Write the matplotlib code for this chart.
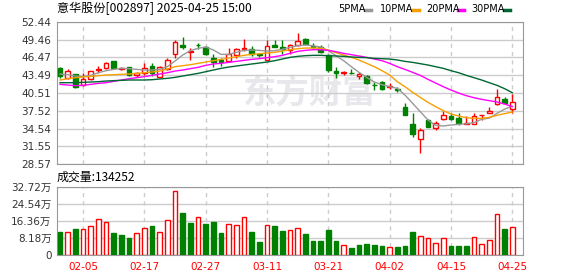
import matplotlib.pyplot as plt
from matplotlib.lines import Line2D
import numpy as np

plt.rcParams['font.family'] = ['DejaVu Sans', 'Noto Sans CJK SC']

# 日K数据 (2025-01-23 ~ 2025-04-25)
dates = ['01-23', '01-24', '01-27', '02-05', '02-06', '02-07', '02-10', '02-11', '02-12', '02-13',
         '02-14', '02-17', '02-18', '02-19', '02-20', '02-21', '02-24', '02-25', '02-26', '02-27',
         '02-28', '03-03', '03-04', '03-05', '03-06', '03-07', '03-10', '03-11', '03-12', '03-13',
         '03-14', '03-17', '03-18', '03-19', '03-20', '03-21', '03-24', '03-25', '03-26', '03-27',
         '03-28', '03-31', '04-01', '04-02', '04-03', '04-07', '04-08', '04-09', '04-10', '04-11',
         '04-14', '04-15', '04-16', '04-17', '04-18', '04-21', '04-22', '04-23', '04-24', '04-25']

opens = [44.6, 42.96, 43.63, 41.85, 42.8, 44.4, 44.63, 45.86, 44.55, 44.8,
         43.5, 43.8, 45.0, 43.2, 44.5, 47.0, 48.5, 47.3, 48.6, 48.15,
         46.3, 46.1, 45.9, 46.9, 47.8, 47.9, 46.95, 46.1, 48.5, 48.2,
         47.7, 48.54, 49.54, 48.37, 48.26, 46.9, 44.24, 43.85, 43.9, 43.3,
         43.4, 41.9, 42.4, 41.6, 41.15, 38.1, 35.3, 32.8, 35.98, 34.6,
         36.15, 36.7, 36.26, 35.26, 35.4, 36.75, 37.2, 38.66, 39.45, 37.77]
closes = [43.3, 44.1, 41.6, 42.8, 44.1, 44.5, 45.5, 44.74, 44.65, 43.5,
          43.9, 44.6, 43.8, 44.8, 46.0, 49.0, 48.2, 47.6, 48.5, 47.03,
          45.75, 45.7, 47.1, 47.8, 48.0, 47.1, 46.85, 48.4, 48.2, 47.9,
          48.5, 49.2, 48.65, 48.15, 47.3, 44.35, 43.8, 43.95, 43.85, 43.7,
          42.12, 41.8, 41.17, 41.7, 41.05, 36.9, 33.6, 34.3, 34.9, 35.5,
          36.82, 36.15, 35.5, 35.45, 36.65, 36.82, 37.5, 39.8, 38.9, 39.05]
highs = [44.8, 44.5, 43.7, 43.9, 44.2, 45.0, 45.7, 45.86, 44.9, 44.9,
         44.1, 45.6, 45.5, 45.0, 46.3, 49.4, 49.8, 48.1, 48.9, 48.4,
         47.0, 46.3, 48.0, 48.0, 49.5, 48.3, 47.1, 49.4, 49.4, 49.4,
         48.7, 50.6, 49.76, 48.8, 48.54, 47.0, 44.9, 44.24, 44.46, 44.07,
         43.6, 42.4, 42.5, 42.12, 41.56, 38.8, 37.1, 34.6, 36.1, 35.9,
         37.5, 37.1, 37.2, 36.6, 37.1, 36.85, 38.2, 41.1, 39.9, 40.3]
lows = [43.0, 42.8, 41.3, 41.7, 42.7, 43.8, 44.5, 44.5, 44.4, 43.4,
        43.2, 43.6, 43.4, 43.1, 44.4, 46.3, 47.8, 46.0, 47.8, 46.9,
        44.9, 45.0, 45.7, 46.3, 47.5, 46.7, 46.5, 46.0, 48.2, 47.0,
        47.0, 48.3, 48.54, 47.98, 47.14, 44.07, 42.96, 43.52, 43.63, 42.79,
        41.95, 41.0, 41.0, 41.1, 40.73, 36.8, 33.2, 30.5, 34.9, 34.3,
        35.98, 35.98, 35.1, 35.26, 35.26, 36.0, 37.1, 38.5, 38.8, 37.1]

# 成交量 (万手)
volumes = [11.1, 10.9, 12.3, 12.3, 13.8, 17.1, 15.7, 10.4, 9.5, 8.1,
           10.4, 12.8, 13.8, 10.9, 16.6, 30.4, 20.1, 15.2, 18.0, 14.7,
           15.7, 10.4, 14.7, 14.2, 18.0, 10.9, 6.2, 14.2, 13.8, 11.4,
           11.9, 12.7, 10.0, 6.6, 6.6, 11.9, 6.6, 4.6, 3.3, 4.7,
           5.2, 4.7, 4.3, 3.6, 3.8, 4.3, 10.9, 9.3, 7.9, 5.5,
           7.9, 4.3, 4.3, 4.3, 8.4, 5.1, 7.1, 19.8, 12.3, 13.4252]

ma5 = [43.68, 43.57, 43.35, 43.24, 43.46, 43.90, 44.24, 44.46, 44.63, 44.58,
       44.46, 44.35, 44.35, 44.46, 44.91, 45.86, 46.86, 47.59, 47.98, 48.20,
       47.70, 46.97, 46.97, 47.31, 47.64, 47.70, 47.64, 47.53, 47.59, 47.81,
       48.15, 48.42, 48.54, 48.42, 48.20, 47.59, 46.75, 45.91, 44.91, 43.96,
       43.12, 42.34, 41.90, 41.56, 41.28, 40.17, 38.77, 37.38, 35.98, 35.09,
       34.98, 35.15, 35.25, 35.35, 35.55, 36.10, 36.30, 37.10, 37.80, 38.30]
ma10 = [42.68, 42.90, 43.07, 43.18, 43.29, 43.40, 43.52, 43.57, 43.63, 43.68,
        43.79, 43.90, 44.02, 44.18, 44.52, 44.91, 45.08, 45.24, 45.47, 45.69,
        45.91, 46.14, 46.36, 46.58, 46.81, 46.97, 47.08, 47.20, 47.31, 47.53,
        47.75, 47.92, 48.03, 48.03, 47.98, 47.70, 47.25, 46.86, 46.47, 46.03,
        45.47, 44.91, 44.24, 43.52, 42.40, 41.56, 40.62, 39.78, 38.94, 38.22,
        37.55, 36.99, 36.65, 36.38, 36.26, 36.26, 36.43, 36.77, 37.05, 37.32]
ma20 = [41.95, 41.84, 41.73, 41.79, 41.95, 42.12, 42.23, 42.46, 42.68, 42.90,
        43.07, 43.24, 43.46, 43.68, 43.90, 44.18, 44.35, 44.58, 44.80, 45.13,
        45.36, 45.47, 45.63, 45.80, 45.97, 46.14, 46.25, 46.42, 46.58, 46.81,
        47.14, 47.48, 47.64, 47.75, 47.75, 47.64, 47.42, 47.14, 46.92, 46.70,
        46.47, 46.19, 45.91, 45.47, 44.91, 44.46, 43.96, 43.46, 42.79, 42.18,
        41.56, 41.00, 40.50, 40.06, 39.72, 39.44, 39.22, 39.00, 38.66, 38.22]
ma30 = [42.23, 42.23, 42.23, 42.29, 42.34, 42.40, 42.51, 42.57, 42.62, 42.68,
        42.68, 42.68, 42.73, 42.85, 42.96, 43.12, 43.35, 43.57, 43.79, 44.07,
        44.35, 44.63, 44.85, 45.02, 45.19, 45.36, 45.52, 45.69, 45.91, 46.19,
        46.47, 46.64, 46.75, 46.81, 46.81, 46.75, 46.70, 46.64, 46.53, 46.47,
        46.42, 46.30, 46.25, 46.19, 46.03, 45.80, 45.63, 45.41, 45.19, 44.91,
        44.63, 44.24, 43.90, 43.46, 43.07, 42.68, 42.23, 41.79, 41.23, 40.56]

price_ticks = [28.57, 31.55, 34.54, 37.52, 40.51, 43.49, 46.47, 49.46, 52.44]
vol_ticks = [0, 8.18, 16.36, 24.54, 32.72]
vol_labels = ['0', '8.18万', '16.36万', '24.54万', '32.72万']
tick_dates = ['02-05', '02-17', '02-27', '03-11', '03-21', '04-02', '04-15', '04-25']

RED = '#ff0000'
GREEN = '#008000'
GRID = '#cccccc'
SPINE = '#999999'
CJK = ['Noto Sans CJK SC', 'DejaVu Sans']

x = np.arange(len(dates))
o = np.array(opens)
c = np.array(closes)
up = c >= o
prev = np.r_[o[0], c[:-1]]
vol_up = c >= prev
xt = [dates.index(d) for d in tick_dates]

fig = plt.figure(figsize=(5.78, 2.76), dpi=100)
ax = fig.add_axes([57 / 578, 1 - 164.3 / 276, 466 / 578, 142.6 / 276])
axv = fig.add_axes([57 / 578, 1 - 255 / 276, 466 / 578, 68.5 / 276])

# K线
ax.vlines(x, lows, highs, colors=np.where(up, RED, GREEN), lw=1, zorder=3)
ax.bar(x, np.abs(c - o) + 0.02, bottom=np.minimum(o, c) - 0.01, width=0.62,
       color=np.where(up, 'white', GREEN), edgecolor=np.where(up, RED, GREEN),
       lw=1, zorder=4)

ax.plot(x, ma5, color='#999999', lw=1, zorder=5)
ax.plot(x, ma10, color='#f5a000', lw=1, zorder=5)
ax.plot(x, ma20, color='#ff00ff', lw=1, zorder=5)
ax.plot(x, ma30, color='#006633', lw=1, zorder=5)

ax.text(0.54, 0.49, '东方财富', transform=ax.transAxes, fontsize=24, fontweight='bold',
        color='#e8e8ec', ha='center', va='center', zorder=0, family=CJK)

ax.set_xlim(-0.4, 60.4)
ax.set_ylim(28.57, 52.44)
ax.set_yticks(price_ticks)
ax.set_yticklabels(['%.2f' % v for v in price_ticks])
ax.set_xticks(xt)
ax.set_xticklabels([])

# 成交量
axv.bar(x, volumes, width=0.62, color=np.where(vol_up, 'white', GREEN),
        edgecolor=np.where(vol_up, RED, GREEN), lw=1, zorder=3)
axv.set_xlim(-0.4, 60.4)
axv.set_ylim(0, 32.72)
axv.set_yticks(vol_ticks)
axv.set_yticklabels(vol_labels)
axv.set_xticks(xt)
axv.set_xticklabels(tick_dates, color=RED)

for a in (ax, axv):
    a.grid(axis='y', color=GRID, lw=1, zorder=1)
    a.grid(axis='x', color=GRID, lw=1, ls=(0, (3, 3)), zorder=1)
    a.tick_params(length=0, pad=4, labelsize=7.5, labelcolor='#333333')
    for s in a.spines.values():
        s.set_color(SPINE)
axv.tick_params(axis='x', labelcolor=RED, pad=5)

fig.text(57 / 578, 1 - 8.5 / 276, '意华股份[002897] 2025-04-25 15:00', fontsize=8.7,
         va='center', ha='left', family=CJK)
fig.text(57 / 578, 1 - 177 / 276, '成交量:134252', fontsize=8.6, va='center', ha='left',
         family=CJK)

legend = [('5PMA', '#999999', 338, 368), ('10PMA', '#f5a000', 380, 416),
          ('20PMA', '#ff00ff', 426, 461), ('30PMA', '#006633', 471, 507)]
for name, col, tx, mx in legend:
    fig.text(tx / 578, 1 - 8.5 / 276, name, fontsize=7, va='center', ha='left')
    fig.add_artist(Line2D([(mx - 3) / 578, (mx + 3) / 578], [1 - 9.5 / 276] * 2,
                          color=col, lw=2.5, transform=fig.transFigure))

fig.savefig('out.png', dpi=100)
